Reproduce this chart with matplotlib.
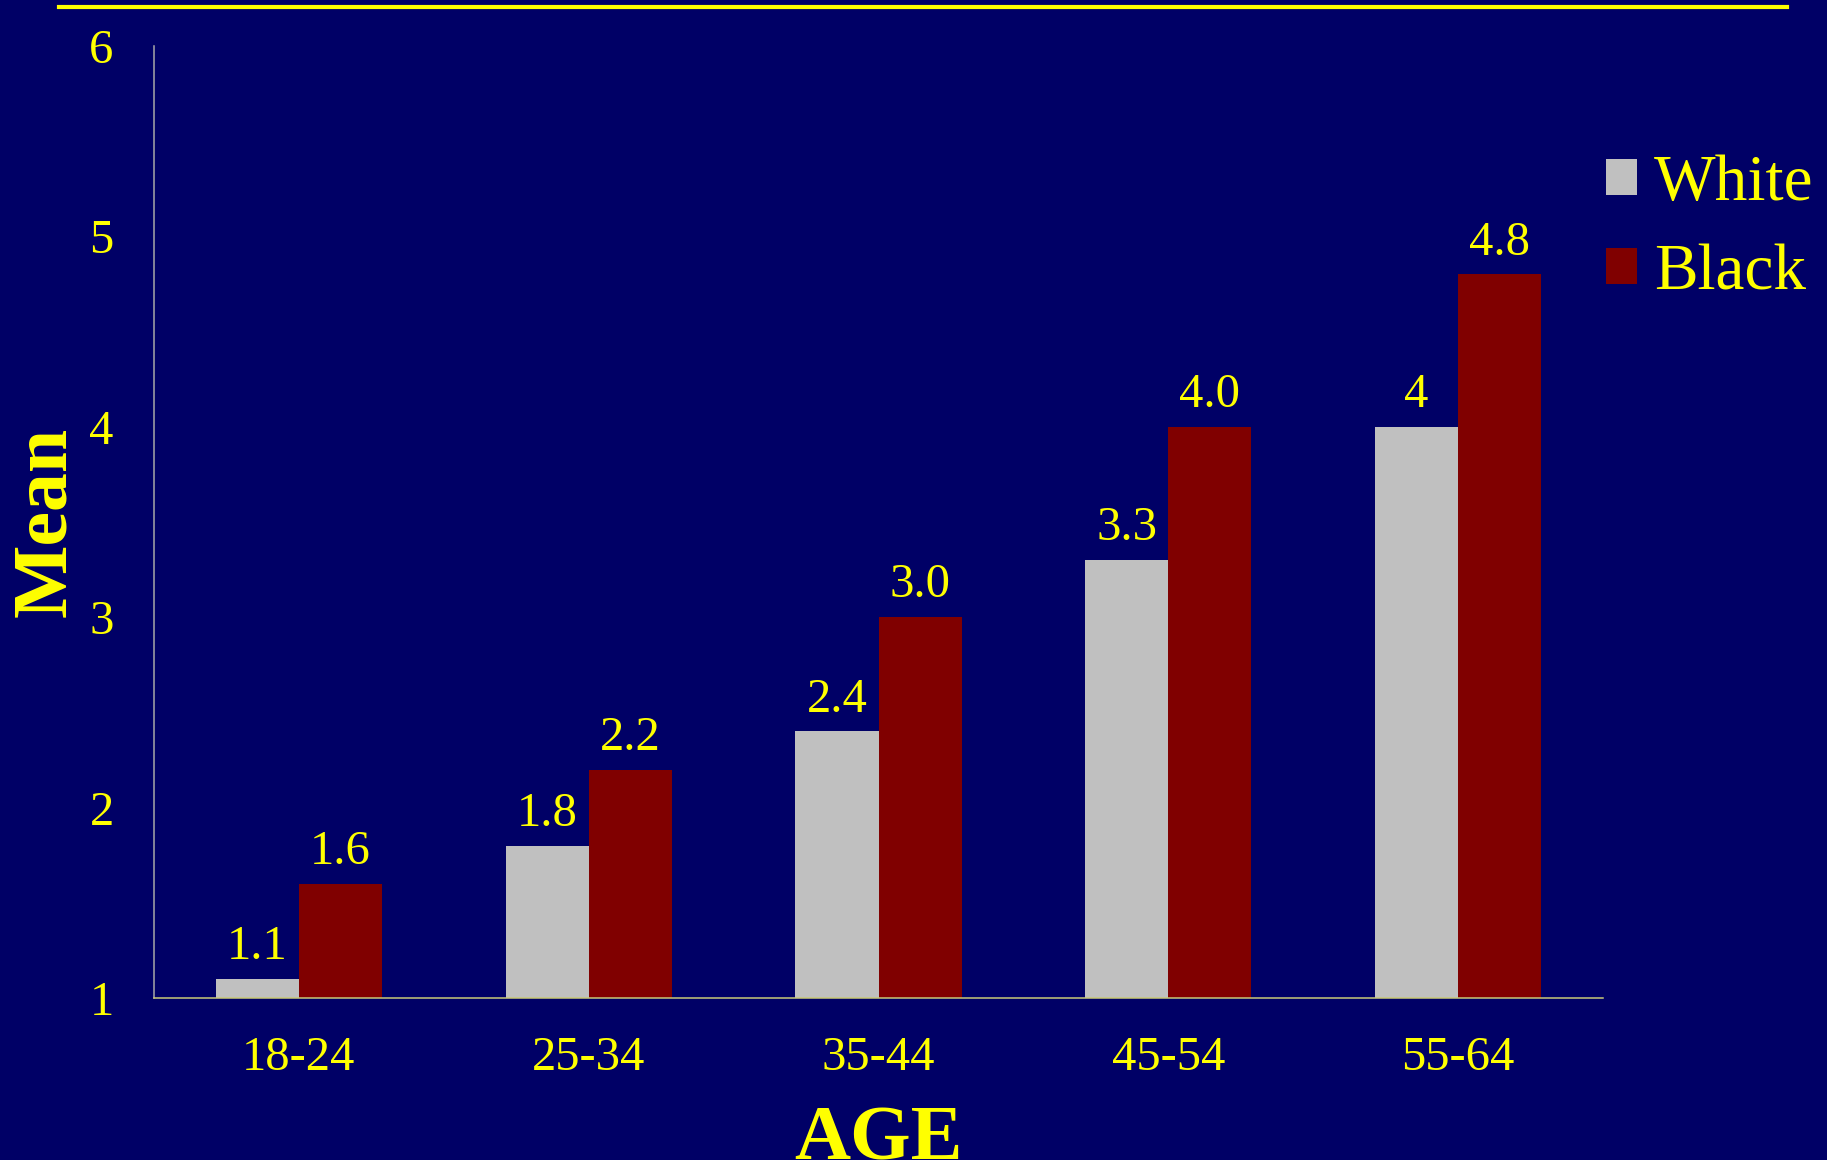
import matplotlib
matplotlib.use("Agg")
import matplotlib.pyplot as plt
import numpy as np
from matplotlib.patches import Patch
from matplotlib.lines import Line2D

# Data
age_groups = ["18-24", "25-34", "35-44", "45-54", "55-64"]
white_mean = [1.1, 1.8, 2.4, 3.3, 4.0]
black_mean = [1.6, 2.2, 3.0, 4.0, 4.8]
white_labels = ["1.1", "1.8", "2.4", "3.3", "4"]
black_labels = ["1.6", "2.2", "3.0", "4.0", "4.8"]
y_ticks = [1, 2, 3, 4, 5, 6]

BG = "#000066"
YELLOW = "#FFFF00"
GREY = "#C0C0C0"
MAROON = "#800000"
SERIF = ["Liberation Serif", "DejaVu Serif"]

plt.rcParams["font.family"] = SERIF

W, H = 1827, 1160
fig = plt.figure(figsize=(W / 100, H / 100), dpi=100, facecolor=BG)

left, right, bottom, top = 154, 1603, 998, 46
ax = fig.add_axes([left / W, 1 - bottom / H, (right - left) / W, (bottom - top) / H])
ax.set_facecolor(BG)

x = np.arange(len(age_groups))
bw = 0.287
bars_w = ax.bar(x - bw / 2, white_mean, width=bw, bottom=0, color=GREY, label="White")
bars_b = ax.bar(x + bw / 2, black_mean, width=bw, bottom=0, color=MAROON, label="Black")

ax.bar_label(bars_w, labels=white_labels, padding=7, color=YELLOW, fontsize=35)
ax.bar_label(bars_b, labels=black_labels, padding=7, color=YELLOW, fontsize=35)

ax.set_ylim(1, 6)
ax.set_xlim(-0.5, len(age_groups) - 0.5)
ax.set_yticks(y_ticks)
ax.set_yticklabels([str(t) for t in y_ticks])
ax.set_xticks(x)
ax.set_xticklabels(age_groups)

ax.tick_params(axis="both", length=0, labelsize=35, labelcolor=YELLOW)
ax.tick_params(axis="y", pad=29)
ax.tick_params(axis="x", pad=27)

for s in ("top", "right"):
    ax.spines[s].set_visible(False)
ax.spines["left"].set_color("#A8A8A8")
ax.spines["bottom"].set_color("#C8C878")
ax.spines["left"].set_linewidth(1.1)
ax.spines["bottom"].set_linewidth(1.1)

# Axis titles
ylab = ax.set_ylabel("Mean", fontsize=56, fontweight="bold", color=YELLOW)
ylab.set_verticalalignment("baseline")
ax.yaxis.set_label_coords((65 - left) / (right - left), 0.5)

xlab = ax.set_xlabel("AGE", fontsize=56, fontweight="bold", color=YELLOW)
xlab.set_verticalalignment("baseline")
ax.xaxis.set_label_coords(0.5, -(1159 - bottom) / (bottom - top))

# Legend
handles = [Patch(facecolor=GREY, edgecolor="none"), Patch(facecolor=MAROON, edgecolor="none")]
leg = fig.legend(handles, ["White", "Black"], loc="center left",
                 bbox_to_anchor=(1606 / W, 1 - 229 / H),
                 frameon=False, fontsize=47, handlelength=0.48, handleheight=0.48,
                 handletextpad=0.26, labelspacing=0.45, borderpad=0, borderaxespad=0)
for t in leg.get_texts():
    t.set_color(YELLOW)

# Top rule
fig.add_artist(Line2D([59 / W, 1787 / W], [1 - 7 / H, 1 - 7 / H],
                      transform=fig.transFigure, color=YELLOW, linewidth=3))

fig.savefig("out.png", dpi=100, facecolor=BG)
